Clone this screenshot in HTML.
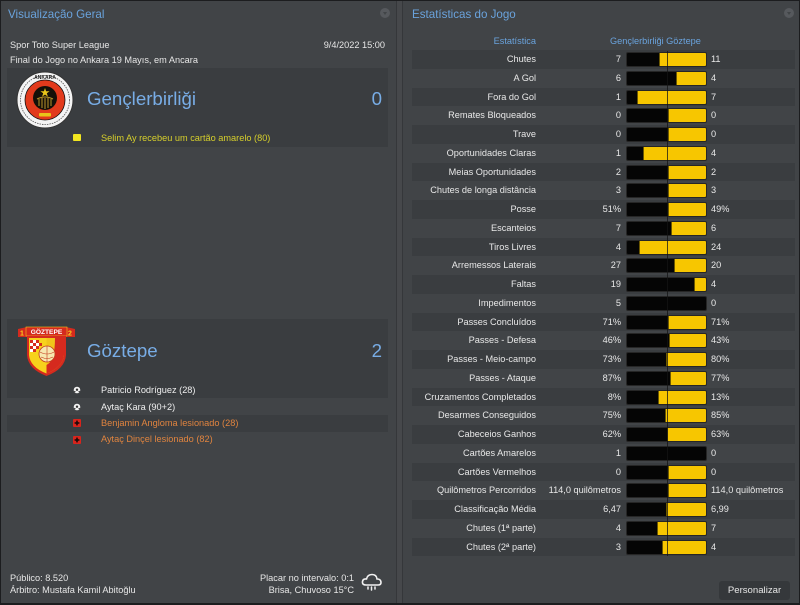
<!DOCTYPE html>
<html><head><meta charset="utf-8">
<style>
*{margin:0;padding:0;box-sizing:border-box}
html,body{width:800px;height:605px;overflow:hidden;background:#1c1d1f;font-family:"Liberation Sans",Arial,sans-serif}
.abs{position:absolute}
.panel{position:absolute;background:#414447}
.t{position:absolute;white-space:nowrap;font-size:9.2px;color:#e6e6e6;line-height:12px}
.title{position:absolute;font-size:11.6px;color:#6aa3dd;white-space:nowrap;line-height:14px}
.blk{position:absolute;background:#3a3d40}
.team{position:absolute;font-size:18.7px;color:#78ade6;white-space:nowrap;line-height:22px}
.row{position:absolute;left:412px;width:383px;height:18.75px}
.row.s{background:#3a3d40}
.lab{position:absolute;left:0;width:124px;text-align:right;font-size:9.2px;color:#e8e8e8;line-height:18.75px;white-space:nowrap}
.hv{position:absolute;right:174px;text-align:right;font-size:9.2px;color:#e8e8e8;line-height:18.75px;white-space:nowrap}
.av{position:absolute;left:299px;font-size:9.2px;color:#e8e8e8;line-height:18.75px;white-space:nowrap}
.bar{position:absolute;left:214px;top:2px;width:81px;height:15px;background:#050505;border:1px solid #262626;border-radius:2px;overflow:hidden}
.y{position:absolute;top:0;bottom:0;right:0;background:#f7c600;border-left:1px solid #6b5700}
.coll{position:absolute;width:10px;height:10px;border-radius:50%;background:#56595d}
.coll:after{content:"";position:absolute;left:2.5px;top:3.5px;border-left:2.5px solid transparent;border-right:2.5px solid transparent;border-top:3px solid #414447}
</style></head><body>

<!-- left panel -->
<div class="panel" style="left:1px;top:1px;width:395px;height:602px"></div>
<div class="abs" style="left:396px;top:1px;width:7px;height:602px;background:#46484b;border-left:1px solid #35373a;border-right:1px solid #35373a"></div>
<!-- right panel -->
<div class="panel" style="left:403px;top:1px;width:396px;height:602px"></div>

<div class="title" style="left:8px;top:8px">Visualização Geral</div>
<div class="coll" style="left:380px;top:8px"></div>

<div class="t" style="left:10px;top:39px">Spor Toto Super League</div>
<div class="t" style="right:415px;top:39px">9/4/2022 15:00</div>
<div class="t" style="left:10px;top:54px">Final do Jogo no Ankara 19 Mayıs, em Ancara</div>

<!-- team 1 block -->
<div class="blk" style="left:7px;top:68px;width:381px;height:79px"></div>
<svg class="abs" style="left:15px;top:70px" width="60" height="60" viewBox="0 0 60 60">
<circle cx="30" cy="30" r="28" fill="#f4f4f4" stroke="#333" stroke-width="1"/>
<circle cx="30" cy="30" r="24.5" fill="none" stroke="#555" stroke-width="0.8" stroke-dasharray="1.5 1"/>
<circle cx="30" cy="30" r="20" fill="#e23a1c" stroke="#111" stroke-width="0.8"/>
<circle cx="30" cy="28" r="12" fill="#141008"/>
<polygon points="30,18 31.1,21.3 34.6,21.3 31.8,23.3 32.9,26.6 30,24.6 27.1,26.6 28.2,23.3 25.4,21.3 28.9,21.3" fill="#e8c51a"/>
<g stroke="#b9952a" stroke-width="1">
<line x1="24" y1="29" x2="24" y2="36"/><line x1="27" y1="28" x2="27" y2="38"/><line x1="30" y1="28" x2="30" y2="39"/><line x1="33" y1="28" x2="33" y2="38"/><line x1="36" y1="29" x2="36" y2="36"/>
</g>
<path d="M22 29 Q30 25 38 29" stroke="#b9952a" stroke-width="1" fill="none"/>
<rect x="24" y="43" width="12" height="3.5" fill="#e8c51a" rx="1"/>
<text x="30" y="9" font-size="5" fill="#222" text-anchor="middle" font-family="Liberation Sans" font-weight="bold">ANKARA</text>
</svg>
<div class="team" style="left:87px;top:88px">Gençlerbirliği</div>
<div class="team" style="right:418px;top:88px">0</div>
<div class="abs" style="left:73px;top:134px;width:8px;height:7px;background:#f2e620;border-radius:1px"></div>
<div class="t" style="left:101px;top:132px;color:#d6cf2c">Selim Ay recebeu um cartão amarelo (80)</div>

<!-- team 2 block -->
<div class="blk" style="left:7px;top:319px;width:381px;height:79px"></div>
<svg class="abs" style="left:17px;top:325px" width="60" height="54" viewBox="0 0 60 54">
<path d="M1 4 L10 2 L10 12 L1 12 Z" fill="#d52a1e"/>
<path d="M58 4 L49 2 L49 12 L58 12 Z" fill="#d52a1e"/>
<text x="3" y="10.5" font-size="7" fill="#f7d21c" font-family="Liberation Sans" font-weight="bold">1</text>
<text x="51" y="10.5" font-size="7" fill="#f7d21c" font-family="Liberation Sans" font-weight="bold">2</text>
<rect x="9" y="2" width="41" height="9" fill="#d52a1e" stroke="#f2c41c" stroke-width="0.6"/>
<text x="29.5" y="9.2" font-size="6.6" fill="#fff" text-anchor="middle" font-family="Liberation Sans" font-weight="bold">GÖZTEPE</text>
<path d="M10 11 L49 11 L49 30 Q48 44 29.5 51 Q11 44 10 30 Z" fill="#d52a1e"/>
<path d="M12 13 L29.5 13 L29.5 48.5 Q13 42 12 30 Z" fill="#f7d21c"/>
<path d="M29.5 13 L47 13 L47 30 Q46 42 29.5 48.5 Z" fill="#f0c41a" />
<path d="M38 13 L47 13 L47 30 Q46 42 29.5 48.5 L29.5 40 Q38 36 38 13 Z" fill="#d52a1e"/>
<g fill="#d52a1e"><rect x="13" y="15" width="3" height="3"/><rect x="19" y="15" width="3" height="3"/><rect x="16" y="18" width="3" height="3"/><rect x="22" y="18" width="3" height="3"/><rect x="13" y="21" width="3" height="3"/><rect x="19" y="21" width="3" height="3"/><rect x="16" y="24" width="3" height="3"/></g>
<g fill="#fff"><rect x="16" y="15" width="3" height="3"/><rect x="13" y="18" width="3" height="3"/><rect x="19" y="18" width="3" height="3"/><rect x="16" y="21" width="3" height="3"/><rect x="13" y="24" width="3" height="3"/></g>
<circle cx="30" cy="29" r="8" fill="#f7e7b0" stroke="#c23a1e" stroke-width="0.8"/>
<path d="M23 27 Q30 31 37 27 M24 32 Q30 35 36 32 M30 21 L30 37" stroke="#c23a1e" stroke-width="0.6" fill="none"/>
</svg>
<div class="team" style="left:87px;top:340px">Göztepe</div>
<div class="team" style="right:418px;top:340px">2</div>

<div class="blk" style="left:7px;top:415px;width:381px;height:17px"></div>
<svg class="abs" style="left:73px;top:386px" width="8" height="8" viewBox="0 0 8 8"><circle cx="4" cy="4" r="3.3" fill="#f2f2f2"/><circle cx="4" cy="3.7" r="1.2" fill="#333"/><circle cx="1.8" cy="5.6" r="0.7" fill="#333"/><circle cx="6.2" cy="5.6" r="0.7" fill="#333"/></svg>
<div class="t" style="left:101px;top:384px;color:#eeeeee">Patricio Rodríguez (28)</div>
<svg class="abs" style="left:73px;top:403px" width="8" height="8" viewBox="0 0 8 8"><circle cx="4" cy="4" r="3.3" fill="#f2f2f2"/><circle cx="4" cy="3.7" r="1.2" fill="#333"/><circle cx="1.8" cy="5.6" r="0.7" fill="#333"/><circle cx="6.2" cy="5.6" r="0.7" fill="#333"/></svg>
<div class="t" style="left:101px;top:401px;color:#eeeeee">Aytaç Kara (90+2)</div>
<svg class="abs" style="left:73px;top:419px" width="8" height="8" viewBox="0 0 8 8"><rect x="0" y="0" width="8" height="8" rx="1" fill="#d8241c"/><rect x="3.2" y="1.6" width="1.6" height="4.8" fill="#1a0a0a"/><rect x="1.6" y="3.2" width="4.8" height="1.6" fill="#1a0a0a"/></svg>
<div class="t" style="left:101px;top:417px;color:#e0843f">Benjamin Angloma lesionado (28)</div>
<svg class="abs" style="left:73px;top:436px" width="8" height="8" viewBox="0 0 8 8"><rect x="0" y="0" width="8" height="8" rx="1" fill="#d8241c"/><rect x="3.2" y="1.6" width="1.6" height="4.8" fill="#1a0a0a"/><rect x="1.6" y="3.2" width="4.8" height="1.6" fill="#1a0a0a"/></svg>
<div class="t" style="left:101px;top:433px;color:#e0843f">Aytaç Dinçel lesionado (82)</div>

<!-- bottom left -->
<div class="t" style="left:10px;top:572px">Público: 8.520</div>
<div class="t" style="left:10px;top:584px">Árbitro: Mustafa Kamil Abitoğlu</div>
<div class="t" style="right:446px;top:572px">Placar no intervalo: 0:1</div>
<div class="t" style="right:446px;top:584px">Brisa, Chuvoso 15°C</div>
<svg class="abs" style="left:360px;top:570px" width="24" height="24" viewBox="0 0 24 24">
<path d="M6 15 Q2 15 2.5 11.5 Q3 8.5 6.5 9 Q7.5 4.5 12 4.5 Q16.5 4.5 17 9 Q21 9 21 12.5 Q21 15 18 15 Z" fill="none" stroke="#f2f2f2" stroke-width="1.6"/>
<g stroke="#f2f2f2" stroke-width="1.5" stroke-linecap="round"><line x1="8" y1="17" x2="8" y2="19"/><line x1="11.5" y1="17" x2="11.5" y2="20"/><line x1="15" y1="17" x2="15" y2="19"/></g>
</svg>

<!-- right panel -->
<div class="title" style="left:412px;top:8px">Estatísticas do Jogo</div>
<div class="coll" style="left:784px;top:8px"></div>
<div class="t" style="left:412px;width:124px;text-align:right;top:35px;color:#6aa3dd">Estatística</div>
<div class="t" style="left:610px;top:35px;color:#6aa3dd">Gençlerbirliği Göztepe</div>

<div class="row s" style="top:50px"><div class="lab">Chutes</div><div class="hv">7</div><div class="bar"><div class="y" style="left:31.5px"></div></div><div class="av">11</div></div>
<div class="row" style="top:68.75px"><div class="lab">A Gol</div><div class="hv">6</div><div class="bar"><div class="y" style="left:48.6px"></div></div><div class="av">4</div></div>
<div class="row s" style="top:87.5px"><div class="lab">Fora do Gol</div><div class="hv">1</div><div class="bar"><div class="y" style="left:10.1px"></div></div><div class="av">7</div></div>
<div class="row" style="top:106.25px"><div class="lab">Remates Bloqueados</div><div class="hv">0</div><div class="bar"><div class="y" style="left:40.5px"></div></div><div class="av">0</div></div>
<div class="row s" style="top:125px"><div class="lab">Trave</div><div class="hv">0</div><div class="bar"><div class="y" style="left:40.5px"></div></div><div class="av">0</div></div>
<div class="row" style="top:143.75px"><div class="lab">Oportunidades Claras</div><div class="hv">1</div><div class="bar"><div class="y" style="left:16.2px"></div></div><div class="av">4</div></div>
<div class="row s" style="top:162.5px"><div class="lab">Meias Oportunidades</div><div class="hv">2</div><div class="bar"><div class="y" style="left:40.5px"></div></div><div class="av">2</div></div>
<div class="row" style="top:181.25px"><div class="lab">Chutes de longa distância</div><div class="hv">3</div><div class="bar"><div class="y" style="left:40.5px"></div></div><div class="av">3</div></div>
<div class="row s" style="top:200px"><div class="lab">Posse</div><div class="hv">51%</div><div class="bar"><div class="y" style="left:41.3px"></div></div><div class="av">49%</div></div>
<div class="row" style="top:218.75px"><div class="lab">Escanteios</div><div class="hv">7</div><div class="bar"><div class="y" style="left:43.6px"></div></div><div class="av">6</div></div>
<div class="row s" style="top:237.5px"><div class="lab">Tiros Livres</div><div class="hv">4</div><div class="bar"><div class="y" style="left:11.6px"></div></div><div class="av">24</div></div>
<div class="row" style="top:256.25px"><div class="lab">Arremessos Laterais</div><div class="hv">27</div><div class="bar"><div class="y" style="left:46.5px"></div></div><div class="av">20</div></div>
<div class="row s" style="top:275px"><div class="lab">Faltas</div><div class="hv">19</div><div class="bar"><div class="y" style="left:66.9px"></div></div><div class="av">4</div></div>
<div class="row" style="top:293.75px"><div class="lab">Impedimentos</div><div class="hv">5</div><div class="bar"></div><div class="av">0</div></div>
<div class="row s" style="top:312.5px"><div class="lab">Passes Concluídos</div><div class="hv">71%</div><div class="bar"><div class="y" style="left:40.5px"></div></div><div class="av">71%</div></div>
<div class="row" style="top:331.25px"><div class="lab">Passes - Defesa</div><div class="hv">46%</div><div class="bar"><div class="y" style="left:41.9px"></div></div><div class="av">43%</div></div>
<div class="row s" style="top:350px"><div class="lab">Passes - Meio-campo</div><div class="hv">73%</div><div class="bar"><div class="y" style="left:38.6px"></div></div><div class="av">80%</div></div>
<div class="row" style="top:368.75px"><div class="lab">Passes - Ataque</div><div class="hv">87%</div><div class="bar"><div class="y" style="left:43px"></div></div><div class="av">77%</div></div>
<div class="row s" style="top:387.5px"><div class="lab">Cruzamentos Completados</div><div class="hv">8%</div><div class="bar"><div class="y" style="left:30.9px"></div></div><div class="av">13%</div></div>
<div class="row" style="top:406.25px"><div class="lab">Desarmes Conseguidos</div><div class="hv">75%</div><div class="bar"><div class="y" style="left:38px"></div></div><div class="av">85%</div></div>
<div class="row s" style="top:425px"><div class="lab">Cabeceios Ganhos</div><div class="hv">62%</div><div class="bar"><div class="y" style="left:40.2px"></div></div><div class="av">63%</div></div>
<div class="row" style="top:443.75px"><div class="lab">Cartões Amarelos</div><div class="hv">1</div><div class="bar"></div><div class="av">0</div></div>
<div class="row s" style="top:462.5px"><div class="lab">Cartões Vermelhos</div><div class="hv">0</div><div class="bar"><div class="y" style="left:40.5px"></div></div><div class="av">0</div></div>
<div class="row" style="top:481.25px"><div class="lab">Quilômetros Percorridos</div><div class="hv">114,0 quilômetros</div><div class="bar"><div class="y" style="left:40.5px"></div></div><div class="av">114,0 quilômetros</div></div>
<div class="row s" style="top:500px"><div class="lab">Classificação Média</div><div class="hv">6,47</div><div class="bar"><div class="y" style="left:38.9px"></div></div><div class="av">6,99</div></div>
<div class="row" style="top:518.75px"><div class="lab">Chutes (1ª parte)</div><div class="hv">4</div><div class="bar"><div class="y" style="left:29.5px"></div></div><div class="av">7</div></div>
<div class="row s" style="top:537.5px"><div class="lab">Chutes (2ª parte)</div><div class="hv">3</div><div class="bar"><div class="y" style="left:34.7px"></div></div><div class="av">4</div></div>

<div class="abs" style="left:667px;top:51px;width:1px;height:505px;background:rgba(20,20,20,0.75)"></div>

<div class="abs" style="left:719px;top:581px;width:71px;height:19px;background:#35383b;border-radius:3px;color:#e6e6e6;font-size:9.6px;line-height:19px;text-align:center">Personalizar</div>

</body></html>
